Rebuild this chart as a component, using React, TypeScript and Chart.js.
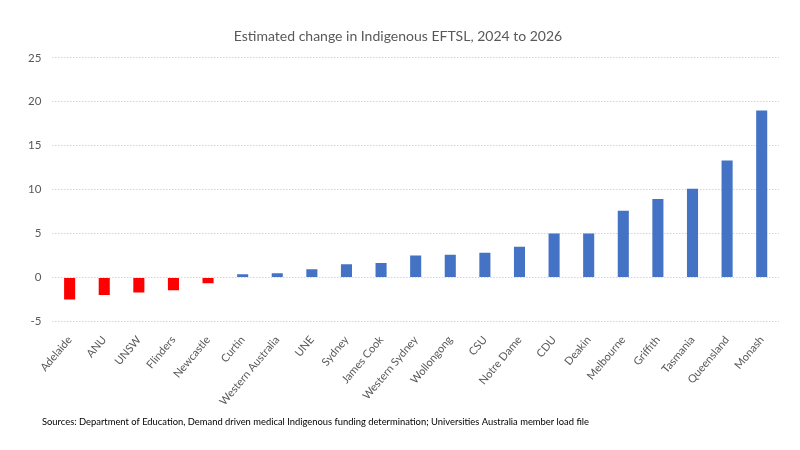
import React, { useEffect, useRef } from "react";
import { Chart, registerables } from "chart.js";

Chart.register(...registerables);

const categories = [
  "Adelaide", "ANU", "UNSW", "Flinders", "Newcastle", "Curtin", "Western Australia",
  "UNE", "Sydney", "James Cook", "Western Sydney", "Wollongong", "CSU", "Notre Dame",
  "CDU", "Deakin", "Melbourne", "Griffith", "Tasmania", "Queensland", "Monash",
];
const values = [
  -2.5, -2.0, -1.7, -1.45, -0.65, 0.37, 0.47, 0.94, 1.5, 1.66, 2.49, 2.6, 2.83, 3.5,
  5.0, 5.0, 7.6, 8.93, 10.1, 13.3, 19.0,
];
const titleText = "Estimated change in Indigenous EFTSL, 2024 to 2026";
const sourceText =
  "Sources: Department of Education, Demand driven medical Indigenous funding determination; Universities Australia member load file";

const FONT = "Lato, 'Open Sans', sans-serif";

export default function App() {
  const ref = useRef<HTMLCanvasElement | null>(null);
  useEffect(() => {
    document.body.style.margin = "0";
    const ctx = ref.current;
    if (!ctx) return;
    const footnote = {
      id: "footnote",
      afterDraw(chart: any) {
        const c = chart.ctx;
        c.save();
        c.font = `9.4px ${FONT}`;
        c.fillStyle = "#000000";
        c.textBaseline = "middle";
        c.textAlign = "left";
        c.fillText(sourceText, 42, 422);
        c.restore();
      },
    };
    const chart = new Chart(ctx, {
      type: "bar",
      data: {
        labels: categories,
        datasets: [
          {
            data: values,
            backgroundColor: values.map((v) => (v < 0 ? "#FF0000" : "#4472C4")),
            barPercentage: 0.32,
            categoryPercentage: 1,
          },
        ],
      },
      options: {
        animation: false,
        responsive: false,
        layout: { padding: { left: 17, right: 21, top: 0, bottom: 38 } },
        plugins: {
          legend: { display: false },
          tooltip: { enabled: false },
          title: {
            display: true,
            text: titleText,
            color: "#595959",
            font: { family: FONT, size: 14, weight: "normal" },
            padding: { top: 28, bottom: 13 },
          },
        },
        scales: {
          x: {
            grid: { display: false },
            border: { display: false },
            ticks: {
              color: "#595959",
              font: { family: FONT, size: 11 },
              maxRotation: 50,
              minRotation: 50,
              autoSkip: false,
              padding: 4,
            },
          },
          y: {
            min: -5,
            max: 25,
            ticks: {
              stepSize: 5,
              color: "#595959",
              font: { family: FONT, size: 11.5 },
              padding: 11,
            },
            border: { display: false, dash: [1.5, 1.5] },
            grid: { color: "#D4D4D4", drawTicks: false },
          },
        },
      },
      plugins: [footnote],
    });
    return () => chart.destroy();
  }, []);
  return (
    <div style={{ position: "absolute", left: 0, top: 0, width: 800, height: 450 }}>
      <canvas ref={ref} width={800} height={450} />
    </div>
  );
}
